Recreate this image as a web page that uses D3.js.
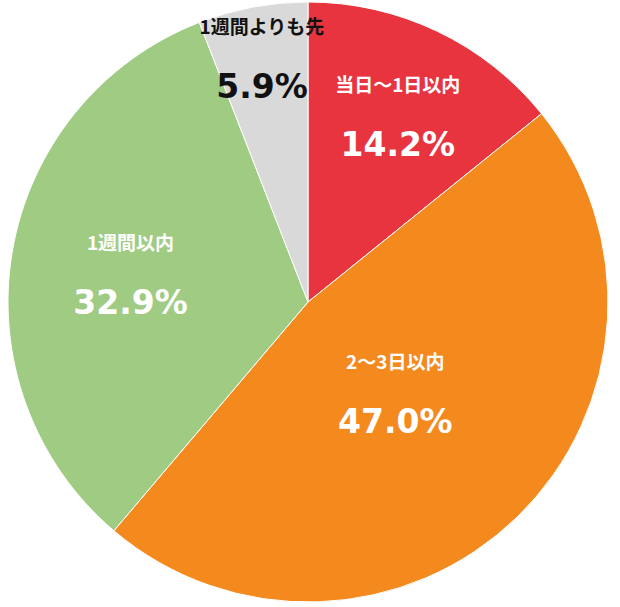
<!DOCTYPE html>
<html><head><meta charset="utf-8">
<script src="https://cdn.jsdelivr.net/npm/d3@7"></script>
<style>body{margin:0;background:#fff}</style></head>
<body><svg id="c" width="620" height="607"></svg>
<script>
const categories = ["当日～1日以内","2～3日以内","1週間以内","1週間よりも先"];
const values = [14.2, 47.0, 32.9, 5.9];
const colors = ["#E8343F","#F4891E","#A0CB83","#D9D9D9"];
const textColors = ["#fff","#fff","#fff","#111"];
const labelRadius = [208, 125, 180, 250];

const svg = d3.select("#c");
const cx = 308, cy = 302, R = 300;
const g = svg.append("g").attr("transform", `translate(${cx},${cy})`);
const pie = d3.pie().sort(null).value(d => d)(values);
const arc = d3.arc().innerRadius(0).outerRadius(R);
g.selectAll("path").data(pie).join("path")
  .attr("d", arc).attr("fill", (d,i) => colors[i]).attr("stroke","#fff").attr("stroke-width",1);
pie.forEach((d,i) => {
  const a = (d.startAngle + d.endAngle)/2;
  const x = labelRadius[i]*Math.sin(a), y = -labelRadius[i]*Math.cos(a);
  g.append("text").attr("x", x).attr("y", y - 22).attr("text-anchor","middle")
    .attr("font-family","Noto Sans CJK JP, sans-serif").attr("font-weight","bold")
    .attr("font-size", 19).attr("fill", textColors[i]).text(categories[i]);
  g.append("text").attr("x", x).attr("y", y + 42).attr("text-anchor","middle")
    .attr("font-family","DejaVu Sans, Verdana, sans-serif").attr("font-weight","bold")
    .attr("font-size", 33).attr("fill", textColors[i]).text(values[i].toFixed(1) + "%");
});
</script></body></html>
